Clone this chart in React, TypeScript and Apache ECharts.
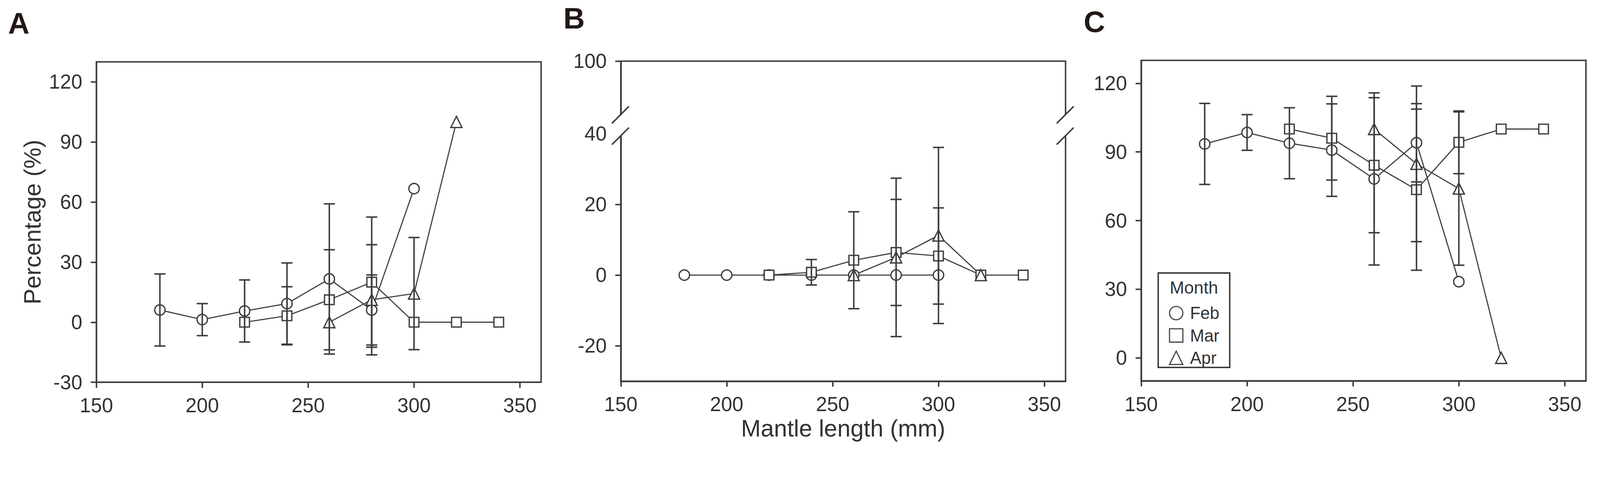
import React, { useEffect, useRef, useState } from "react";
import * as echarts from "echarts";

// ---- data ----
const X_TICKS = [150, 200, 250, 300, 350];
const FEB_X = [180, 200, 220, 240, 260, 280, 300];
const MAR_X = [220, 240, 260, 280, 300, 320, 340];
const APR_X = [260, 280, 300, 320];

// Panel A
const A_FEB = [6.1, 1.3, 5.6, 9.3, 21.6, 6.1, 66.7];
const A_FEB_ERR = [18, 8, 15.5, 20.3, 37.5, 17.5, 0];
const A_MAR = [0, 3.2, 11.2, 20, 0, 0, 0];
const A_MAR_ERR = [0, 14.5, 25, 32.5, 0, 0, 0];
const A_APR = [0, 11.2, 14.3, 100];
const A_APR_ERR = [0, 27.5, 28, 0];

// Panel B
const B_FEB = [0, 0, 0, 0, 0, 0, 0];
const B_FEB_ERR = [0, 0, 0, 0, 0, 0, 0];
const B_MAR = [0, 0.8, 4.2, 6.4, 5.4, 0, 0];
const B_MAR_ERR = [0, 3.6, 13.7, 15, 13.6, 0, 0];
const B_APR = [0, 5.0, 11.2, 0];
const B_APR_ERR = [0, 22.4, 24.9, 0];

// Panel C
const C_FEB = [93.5, 98.5, 93.8, 90.8, 78.2, 94.0, 33.3];
const C_FEB_ERR = [17.7, 7.8, 15.5, 20.2, 37.6, 17.1, 0];
const C_MAR = [100, 96, 84.2, 73.5, 94.2, 100, 100];
const C_MAR_ERR = [0, 18.3, 29.5, 35.2, 13.7, 0, 0];
const C_APR = [100, 84.8, 74.0, 0];
const C_APR_ERR = [0, 34, 33.5, 0];

const A_Y_TICKS = [-30, 0, 30, 60, 90, 120];
const B_Y_LABELS = [-20, 0, 20, 40, 60.5];
const B_Y_TICKS = [-20, 0, 20, 60.5];
const C_Y_TICKS = [0, 30, 60, 90, 120];

const FONT = "'Liberation Sans', Arial, sans-serif";
const INK = "#3d3d3d";
const TXT = "#333333";
const W = 4317;
const H = 1232;

const pairs = (xs: number[], ys: number[]) => xs.map((x, i) => [x, ys[i]]);
const triples = (xs: number[], ys: number[], es: number[]) => xs.map((x, i) => [x, ys[i], es[i]]);

function buildOption(s: number) {
  const P = (v: number) => v * s;

  const xAxis = (gridIndex: number, name?: string) => ({
    type: "value",
    gridIndex,
    min: 150,
    max: 360,
    axisLine: { show: true, onZero: false, lineStyle: { color: INK, width: P(4) } },
    axisTick: { show: true, inside: false, length: P(15), customValues: X_TICKS, lineStyle: { color: INK, width: P(4) } },
    axisLabel: { customValues: X_TICKS, fontSize: P(54), color: TXT, margin: P(36), fontFamily: FONT },
    splitLine: { show: false },
    name: name || "",
    nameLocation: "middle",
    nameGap: P(92),
    nameTextStyle: { fontSize: P(64), color: TXT, fontFamily: FONT },
  });

  const yAxis = (gridIndex: number, min: number, max: number, labels: number[], ticks: number[], name?: string, fmt?: (v: number) => string) => ({
    type: "value",
    gridIndex,
    min,
    max,
    axisLine: { show: true, onZero: false, lineStyle: { color: INK, width: P(4) } },
    axisTick: { show: true, inside: false, length: P(15), customValues: ticks, lineStyle: { color: INK, width: P(4) } },
    axisLabel: { customValues: labels, fontSize: P(54), color: TXT, margin: P(38), fontFamily: FONT, formatter: fmt },
    splitLine: { show: false },
    name: name || "",
    nameLocation: "middle",
    nameGap: P(140),
    nameTextStyle: { fontSize: P(64), color: TXT, fontFamily: FONT },
  });

  const SYMBOLS: Record<string, { symbol: string; size: number }> = {
    Feb: { symbol: "circle", size: 28 },
    Mar: { symbol: "rect", size: 26 },
    Apr: { symbol: "triangle", size: 30 },
  };

  const lineSeries = (name: string, idx: number, data: number[][]) => ({
    type: "line",
    name,
    xAxisIndex: idx,
    yAxisIndex: idx,
    data,
    symbol: SYMBOLS[name].symbol,
    symbolSize: P(SYMBOLS[name].size),
    showAllSymbol: true,
    z: 2,
    lineStyle: { color: INK, width: P(3) },
    itemStyle: { color: "#ffffff", borderColor: INK, borderWidth: P(3.5) },
    emphasis: { disabled: true },
  });

  const errSeries = (name: string, idx: number, data: number[][]) => ({
    type: "custom",
    name: name + " error",
    xAxisIndex: idx,
    yAxisIndex: idx,
    coordinateSystem: "cartesian2d",
    z: 3,
    silent: true,
    data,
    encode: { x: 0, y: 1 },
    renderItem: (params: any, api: any) => {
      const x = api.value(0);
      const y = api.value(1);
      const e = api.value(2);
      if (!e) return { type: "group", children: [] };
      const top = api.coord([x, y + e]);
      const bot = api.coord([x, y - e]);
      const hw = P(15);
      const st = { stroke: INK, lineWidth: P(4) };
      return {
        type: "group",
        children: [
          { type: "line", shape: { x1: top[0], y1: top[1], x2: bot[0], y2: bot[1] }, style: st },
          { type: "line", shape: { x1: top[0] - hw, y1: top[1], x2: top[0] + hw, y2: top[1] }, style: st },
          { type: "line", shape: { x1: bot[0] - hw, y1: bot[1], x2: bot[0] + hw, y2: bot[1] }, style: st },
        ],
      };
    },
  });

  const panelSeries = (idx: number, feb: number[], febE: number[], mar: number[], marE: number[], apr: number[], aprE: number[]) => [
    lineSeries("Feb", idx, pairs(FEB_X, feb)),
    lineSeries("Mar", idx, pairs(MAR_X, mar)),
    lineSeries("Apr", idx, pairs(APR_X, apr)),
    errSeries("Feb", idx, triples(FEB_X, feb, febE)),
    errSeries("Mar", idx, triples(MAR_X, mar, marE)),
    errSeries("Apr", idx, triples(APR_X, apr, aprE)),
  ];

  const grid = (left: number, top: number, height: number) => ({
    left: P(left),
    top: P(top),
    width: P(1200),
    height: P(height),
    show: true,
    borderColor: INK,
    borderWidth: P(4),
    backgroundColor: "transparent",
    containLabel: false,
  });

  return {
    animation: false,
    backgroundColor: "#ffffff",
    textStyle: { fontFamily: FONT },
    grid: [grid(260, 167, 865), grid(1675, 165, 864), grid(3079, 163, 865)],
    xAxis: [xAxis(0), xAxis(1, "Mantle length (mm)"), xAxis(2)],
    yAxis: [
      yAxis(0, -30, 130, A_Y_TICKS, A_Y_TICKS, "Percentage (%)"),
      yAxis(1, -30, 60.5, B_Y_LABELS, B_Y_TICKS, "", (v: number) => (v > 50 ? "100" : String(v))),
      yAxis(2, -10, 130, C_Y_TICKS, C_Y_TICKS),
    ],
    legend: {
      show: true,
      orient: "vertical",
      left: P(3154),
      top: P(822),
      padding: 0,
      itemWidth: P(36),
      itemHeight: P(36),
      itemGap: P(14),
      selectedMode: false,
      data: [
        { name: "Feb", icon: "circle" },
        { name: "Mar", icon: "rect" },
        { name: "Apr", icon: "triangle" },
      ],
      itemStyle: { color: "#ffffff", borderColor: INK, borderWidth: P(3) },
      textStyle: { fontSize: P(46), lineHeight: P(38), color: TXT, fontFamily: FONT, padding: [0, 0, 0, P(14)] },
    },
    series: [
      ...panelSeries(0, A_FEB, A_FEB_ERR, A_MAR, A_MAR_ERR, A_APR, A_APR_ERR),
      ...panelSeries(1, B_FEB, B_FEB_ERR, B_MAR, B_MAR_ERR, B_APR, B_APR_ERR),
      ...panelSeries(2, C_FEB, C_FEB_ERR, C_MAR, C_MAR_ERR, C_APR, C_APR_ERR),
    ],
  };
}

function buildGraphic(chart: any, s: number) {
  const P = (v: number) => v * s;
  const conv = (x: number, y: number) => chart.convertToPixel({ xAxisIndex: 1, yAxisIndex: 1 }, [x, y]) as number[];
  const bTopL = conv(150, 45.3);
  const bBotL = conv(150, 39.3);
  const bTopR = conv(360, 45.3);
  const bBotR = conv(360, 39.3);
  const slash = (p: number[]) => ({
    type: "line",
    z: 101,
    shape: { x1: p[0] - P(24), y1: p[1] + P(23), x2: p[0] + P(22), y2: p[1] - P(23) },
    style: { stroke: INK, lineWidth: P(4) },
  });
  const gapRect = (t: number[], b: number[]) => ({
    type: "rect",
    z: 100,
    shape: { x: t[0] - P(9), y: t[1], width: P(18), height: b[1] - t[1] },
    style: { fill: "#ffffff" },
  });
  const letter = (text: string, x: number, y: number) => ({
    type: "text",
    z: 100,
    x: P(x),
    y: P(y),
    style: { text, fontSize: P(80), fontWeight: "bold", fill: "#231815", fontFamily: FONT, verticalAlign: "middle", align: "left" },
  });
  return [
    letter("A", 22, 63),
    letter("B", 1520, 49),
    letter("C", 2924, 59),
    gapRect(bTopL, bBotL),
    gapRect(bTopR, bBotR),
    slash(bTopL),
    slash(bBotL),
    slash(bTopR),
    slash(bBotR),
    {
      type: "rect",
      z: 1,
      shape: { x: P(3125), y: P(737), width: P(193), height: P(255) },
      style: { fill: "#ffffff", stroke: INK, lineWidth: P(4) },
    },
    {
      type: "text",
      z: 100,
      x: P(3156),
      y: P(776),
      style: { text: "Month", fontSize: P(47), fill: TXT, fontFamily: FONT, verticalAlign: "middle", align: "left" },
    },
  ];
}

export default function App() {
  const ref = useRef<HTMLDivElement>(null);
  const [scale] = useState(() => (window.innerWidth || W) / W);
  useEffect(() => {
    document.body.style.margin = "0";
    document.body.style.overflow = "hidden";
    if (!ref.current) return;
    const chart = echarts.init(ref.current, undefined, { renderer: "svg" });
    chart.setOption(buildOption(scale) as any);
    chart.setOption({ graphic: buildGraphic(chart, scale) } as any);
    return () => chart.dispose();
  }, [scale]);
  return <div ref={ref} style={{ width: W * scale, height: H * scale }} />;
}
